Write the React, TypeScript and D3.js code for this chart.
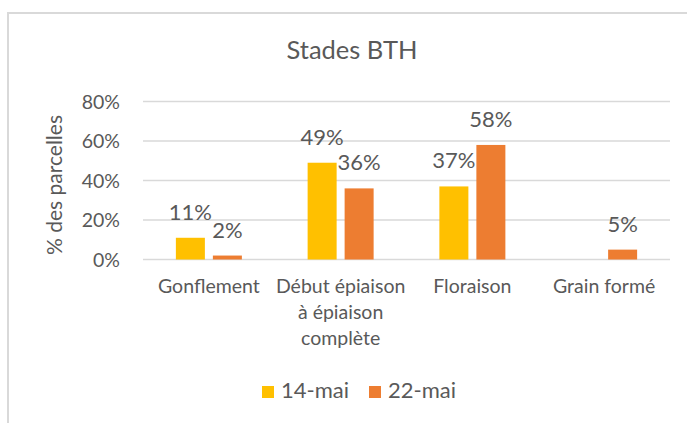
import React, { useRef, useEffect } from "react";
import * as d3 from "d3";

// categories (x axis), one line per entry of the inner array
const categories = ["Gonflement", "Début épiaison à épiaison complète", "Floraison", "Grain formé"];
const categoryLines = [["Gonflement"], ["Début épiaison", "à épiaison", "complète"], ["Floraison"], ["Grain formé"]];

// series
const seriesNames = ["14-mai", "22-mai"];
const may14 = [11, 49, 37, null];
const may22 = [2, 36, 58, 5];
const seriesColors = ["#FFC000", "#ED7D31"];

const yTicks = [0, 20, 40, 60, 80];

function BarChart() {
  const svgRef = useRef<SVGSVGElement | null>(null);
  const width = 687;
  const height = 423;
  const font = "Lato, 'Open Sans', sans-serif";
  const textColor = "#595959";

  const draw = () => {
    const svg = d3.select(svgRef.current);
    svg.selectAll("*").remove();

    // chart area border
    svg.append("path")
      .attr("d", "M8,423 L8,13 L687,13")
      .attr("fill", "none")
      .attr("stroke", "#D9D9D9")
      .attr("stroke-width", 2);

    const x0 = d3.scaleBand().domain(categories).range([143, 670]).padding(0);
    const groupW = 66;
    const x1 = d3
      .scaleBand()
      .domain(seriesNames)
      .range([(x0.bandwidth() - groupW) / 2, (x0.bandwidth() + groupW) / 2])
      .paddingInner(0.216);
    const y = d3.scaleLinear().domain([0, 80]).range([259.5, 101.5]);

    // gridlines
    svg.append("g")
      .selectAll("line")
      .data(yTicks)
      .join("line")
      .attr("x1", 143)
      .attr("x2", 670)
      .attr("y1", d => y(d))
      .attr("y2", d => y(d))
      .attr("stroke", "#D9D9D9")
      .attr("stroke-width", 1.5);

    // y tick labels
    svg.append("g")
      .selectAll("text")
      .data(yTicks)
      .join("text")
      .attr("x", 120)
      .attr("y", d => y(d) + 7)
      .attr("text-anchor", "end")
      .attr("font-family", font)
      .attr("font-size", 19.5)
      .attr("fill", textColor)
      .text(d => d + "%");

    // y axis title
    svg.append("text")
      .attr("transform", "translate(62,185) rotate(-90)")
      .attr("text-anchor", "middle")
      .attr("font-family", font)
      .attr("font-size", 21)
      .attr("fill", textColor)
      .text("% des parcelles");

    // title
    svg.append("text")
      .attr("x", 352)
      .attr("y", 59)
      .attr("text-anchor", "middle")
      .attr("font-family", font)
      .attr("font-size", 25.5)
      .attr("fill", textColor)
      .text("Stades BTH");

    const allSeries = [may14, may22];
    const bars = categories.flatMap((c, i) =>
      seriesNames.map((s, j) => ({ cat: c, series: s, value: allSeries[j][i], color: seriesColors[j] }))
    ).filter(d => d.value !== null) as { cat: string; series: string; value: number; color: string }[];

    const g = svg.append("g");
    g.selectAll("rect")
      .data(bars)
      .join("rect")
      .attr("x", d => (x0(d.cat) as number) + (x1(d.series) as number))
      .attr("y", d => y(d.value))
      .attr("width", x1.bandwidth())
      .attr("height", d => y(0) - y(d.value))
      .attr("fill", d => d.color);

    // data labels
    g.selectAll("text")
      .data(bars)
      .join("text")
      .attr("x", d => (x0(d.cat) as number) + (x1(d.series) as number) + x1.bandwidth() / 2)
      .attr("y", d => y(d.value) - 18)
      .attr("text-anchor", "middle")
      .attr("font-family", font)
      .attr("font-size", 22)
      .attr("fill", textColor)
      .text(d => d.value + "%");

    // category labels
    const cl = svg.append("g")
      .selectAll("text")
      .data(categories)
      .join("text")
      .attr("text-anchor", "middle")
      .attr("font-family", font)
      .attr("font-size", 19.5)
      .attr("fill", textColor);
    cl.each(function (d, i) {
      d3.select(this)
        .selectAll("tspan")
        .data(categoryLines[i])
        .join("tspan")
        .attr("x", (x0(d) as number) + x0.bandwidth() / 2)
        .attr("y", (_, k) => 293 + k * 26)
        .text(t => t);
    });

    // legend
    const legendX = [262, 369];
    const lg = svg.append("g")
      .selectAll("g")
      .data(seriesNames)
      .join("g")
      .attr("transform", (_, i) => `translate(${legendX[i]},386)`);
    lg.append("rect")
      .attr("width", 12)
      .attr("height", 12)
      .attr("fill", (_, i) => seriesColors[i]);
    lg.append("text")
      .attr("x", 19)
      .attr("y", 11.5)
      .attr("font-family", font)
      .attr("font-size", 22)
      .attr("fill", textColor)
      .text(d => d);
  };

  useEffect(() => {
    draw();
  });

  return (
    <svg
      ref={svgRef}
      width={width}
      height={height}
      style={{ position: "absolute", left: 0, top: 0, background: "#fff" }}
    ></svg>
  );
}

export default function App() {
  return <BarChart />;
}
